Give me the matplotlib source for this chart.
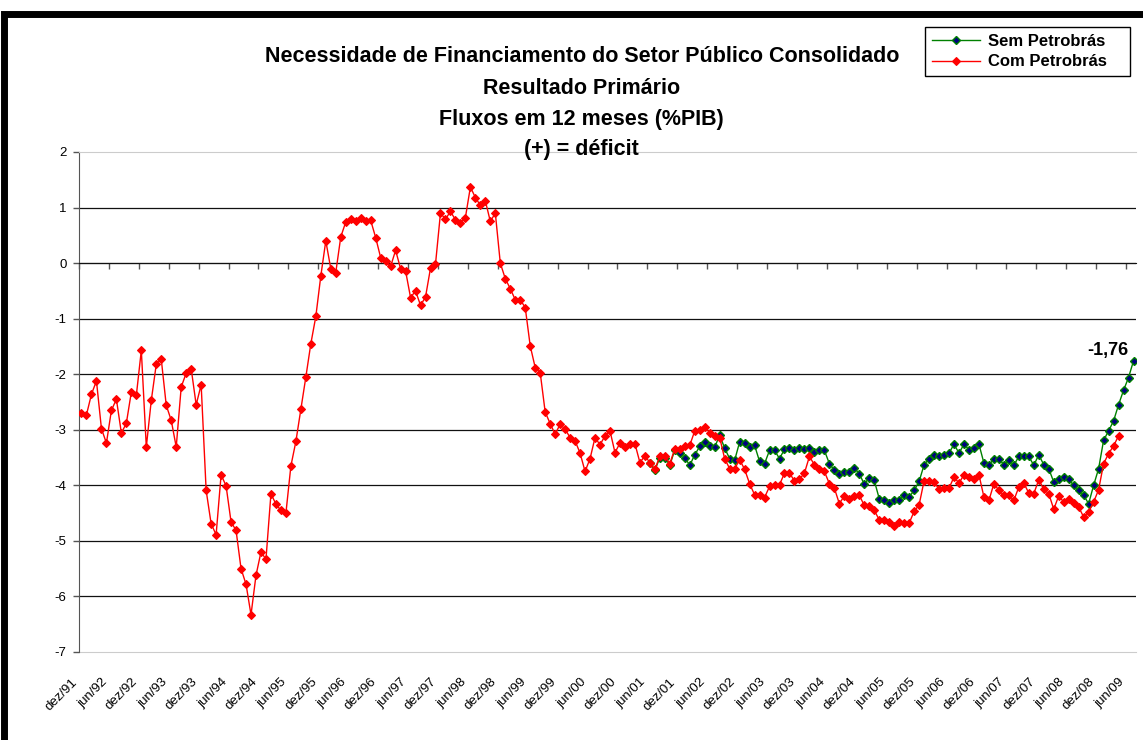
import numpy as np
import pandas as pd
import matplotlib
matplotlib.use("Agg")
import matplotlib.pyplot as plt
import matplotlib.transforms as mtransforms
from matplotlib.patches import Rectangle

plt.rcParams['font.family'] = ['Liberation Sans', 'DejaVu Sans']
plt.rcParams['axes.unicode_minus'] = False

# monthly categories dez/91 .. jul/09
months = pd.period_range('1991-12', '2009-07', freq='M')
pt_month = {1: 'jan', 2: 'fev', 3: 'mar', 4: 'abr', 5: 'mai', 6: 'jun',
            7: 'jul', 8: 'ago', 9: 'set', 10: 'out', 11: 'nov', 12: 'dez'}
cat_labels = [f"{pt_month[p.month]}/{p.year % 100:02d}" for p in months]

# Com Petrobrás: dez/91 .. abr/09
com_petrobras = [
    -2.69, -2.73, -2.36, -2.12, -2.98, -3.24, -2.65, -2.45, -3.06, -2.88, -2.32, -2.38,
    -1.57, -3.31, -2.47, -1.82, -1.73, -2.56, -2.83, -3.31, -2.23, -1.98, -1.90, -2.55,
    -2.19, -4.09, -4.69, -4.89, -3.81, -4.01, -4.66, -4.81, -5.50, -5.78, -6.33, -5.62,
    -5.20, -5.33, -4.15, -4.34, -4.45, -4.50, -3.65, -3.21, -2.63, -2.05, -1.45, -0.96,
    -0.23, 0.40, -0.10, -0.17, 0.47, 0.74, 0.79, 0.76, 0.81, 0.75, 0.77, 0.46,
    0.10, 0.04, -0.06, 0.23, -0.10, -0.14, -0.62, -0.50, -0.76, -0.61, -0.09, -0.02,
    0.90, 0.79, 0.93, 0.78, 0.72, 0.82, 1.37, 1.18, 1.04, 1.12, 0.75, 0.90,
    0.00, -0.28, -0.46, -0.66, -0.66, -0.80, -1.49, -1.88, -1.97, -2.68, -2.89, -3.08,
    -2.90, -2.99, -3.14, -3.20, -3.42, -3.75, -3.52, -3.14, -3.27, -3.11, -3.02, -3.41,
    -3.24, -3.31, -3.25, -3.25, -3.59, -3.47, -3.59, -3.71, -3.48, -3.48, -3.61, -3.34,
    -3.35, -3.30, -3.28, -3.02, -3.01, -2.95, -3.05, -3.11, -3.14, -3.52, -3.70, -3.70,
    -3.54, -3.71, -3.97, -4.17, -4.17, -4.22, -4.02, -4.00, -3.99, -3.78, -3.78, -3.92,
    -3.89, -3.78, -3.48, -3.63, -3.70, -3.75, -3.97, -4.05, -4.33, -4.19, -4.24, -4.19,
    -4.18, -4.36, -4.38, -4.45, -4.62, -4.62, -4.66, -4.74, -4.66, -4.68, -4.68, -4.47,
    -4.35, -3.92, -3.93, -3.94, -4.07, -4.05, -4.05, -3.85, -3.96, -3.81, -3.85, -3.89,
    -3.81, -4.21, -4.27, -3.97, -4.09, -4.18, -4.18, -4.27, -4.03, -3.96, -4.14, -4.15,
    -3.90, -4.07, -4.15, -4.43, -4.19, -4.30, -4.24, -4.32, -4.39, -4.57, -4.48, -4.30,
    -4.08, -3.61, -3.43, -3.29, -3.11,
]

# Sem Petrobrás: jun/01 .. jul/09
sem_start = 114
sem_petrobras = [
    -3.60, -3.73, -3.50, -3.50, -3.64, -3.36,
    -3.42, -3.50, -3.64, -3.45, -3.30, -3.22, -3.30, -3.31, -3.10, -3.33, -3.52, -3.55,
    -3.22, -3.24, -3.31, -3.28, -3.57, -3.61, -3.37, -3.37, -3.52, -3.35, -3.33, -3.37,
    -3.33, -3.35, -3.33, -3.40, -3.37, -3.37, -3.61, -3.73, -3.79, -3.76, -3.76, -3.69,
    -3.79, -3.98, -3.86, -3.91, -4.24, -4.27, -4.31, -4.27, -4.27, -4.17, -4.21, -4.09,
    -3.93, -3.63, -3.52, -3.45, -3.48, -3.45, -3.42, -3.26, -3.42, -3.26, -3.36, -3.33,
    -3.26, -3.60, -3.64, -3.52, -3.52, -3.63, -3.54, -3.64, -3.48, -3.48, -3.48, -3.64,
    -3.45, -3.63, -3.70, -3.94, -3.88, -3.85, -3.89, -4.00, -4.08, -4.18, -4.33, -4.00,
    -3.70, -3.19, -3.02, -2.84, -2.55, -2.29, -2.06, -1.76,
]

title_lines = ["Necessidade de Financiamento do Setor Público Consolidado",
               "Resultado Primário", "Fluxos em 12 meses (%PIB)", "(+) = déficit"]

W, H = 1143, 740
fig = plt.figure(figsize=(W / 100, H / 100), dpi=100)
ax = fig.add_axes([79 / W, 1 - 652 / H, 1057 / W, 500 / H])

x = np.arange(len(months))
ax.plot(x[sem_start:sem_start + len(sem_petrobras)], sem_petrobras,
        color='#008000', lw=1.0, marker='D', ms=4.2,
        mfc='#000080', mec='#008000', mew=1.0, label='Sem Petrobrás', zorder=3)
ax.plot(x[:len(com_petrobras)], com_petrobras,
        color='#FF0000', lw=1.0, marker='D', ms=4.5,
        mfc='#FF0000', mec='#FF0000', mew=0.8, label='Com Petrobrás', zorder=4)

ax.set_xlim(-0.5, len(months) - 0.5)
ax.set_ylim(-7, 2)
ax.set_yticks(range(-7, 3))
ax.yaxis.grid(True, color='#111111', lw=0.9)
gls = ax.get_ygridlines()
gls[0].set_visible(False)
gls[-1].set_visible(False)
ax.set_axisbelow(True)

ax.spines['top'].set_color('#cccccc')
ax.spines['top'].set_linewidth(0.8)
ax.spines['right'].set_visible(False)
ax.spines['left'].set_color('#555555')
ax.spines['bottom'].set_position(('data', 0))
ax.spines['bottom'].set_color('#111111')

ax.set_xticks(np.arange(-0.5, len(months) - 1, 6))
ax.tick_params(axis='x', length=4, width=1, color='#555555', labelbottom=False)
ax.tick_params(axis='y', length=4, width=1, color='#555555', labelsize=9.5, pad=5)

# plot-area bottom edge
sec = ax.secondary_xaxis('bottom')
sec.set_xticks([])
sec.spines['bottom'].set_color('#cccccc')

# category labels every 6 months, below the plot area
lab_tr = (mtransforms.blended_transform_factory(ax.transData, ax.transAxes)
          + mtransforms.ScaledTranslation(-10 / 100, -24 / 100, fig.dpi_scale_trans))
for xi, lab in zip(x[::6], cat_labels[::6]):
    ax.text(xi, 0, lab, transform=lab_tr, rotation=45, ha='right', va='top',
            rotation_mode='anchor', fontsize=9.5, clip_on=False)

ax.annotate('-1,76', xy=(x[-1], sem_petrobras[-1]), xytext=(-26, 10),
            textcoords='offset pixels', ha='center', va='center',
            fontsize=13, fontweight='bold')

for line, yc in zip(title_lines, [57, 88, 120, 150]):
    fig.text(0.509, 1 - yc / H, line, ha='center', va='center',
             fontsize=15.5, fontweight='bold')

leg = fig.legend(loc='upper left', bbox_to_anchor=(925 / W, 1 - 80 / H, 205 / W, 53 / H),
                 mode='expand', borderaxespad=0, fancybox=False, edgecolor='black',
                 framealpha=1, prop={'weight': 'bold', 'size': 12}, handlelength=2.9,
                 borderpad=0.4, labelspacing=0.35, handletextpad=0.5)
leg.get_frame().set_linewidth(1.0)

# thick chart-area border (top and left edges visible)
fig.add_artist(Rectangle((3.5 / W, -0.5), 2.0, 1.5 - 13.5 / H,
                         transform=fig.transFigure, fill=False,
                         lw=5, ec='black', clip_on=False))

fig.savefig('out.png', dpi=100, facecolor='white')
